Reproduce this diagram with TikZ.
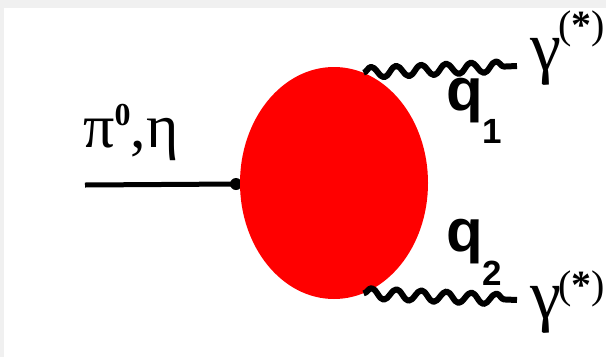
\documentclass[tikz,border=0pt]{standalone}
\usepackage{fontspec}
\setmainfont{Liberation Serif}
\setsansfont{Liberation Sans}
\usetikzlibrary{shapes.geometric,decorations.pathmorphing}
\begin{document}
\begin{tikzpicture}[x=1pt,y=-1pt,
  photon/.style={line width=6pt, line join=round, decorate, decoration={snake, segment length=25pt, amplitude=5.5pt, post length=3pt}},
  serlab/.style={anchor=base west, inner sep=0pt, font=\fontsize{62}{62}\selectfont},
  gamlab/.style={anchor=base west, inner sep=0pt, font=\fontsize{70}{70}\selectfont},
  qlab/.style={anchor=base west, inner sep=0pt, font=\sffamily\bfseries\fontsize{60}{60}\selectfont}]
\useasboundingbox (0,0) rectangle (606,357);
\fill[gray!12] (0,0) rectangle (606,8);
\fill[gray!12] (0,0) rectangle (4,357);
% vertex and incoming line
\coordinate (vtx) at (236,184);
\coordinate (in) at (85,185);
\fill (vtx) circle (6);
\draw[line width=5pt] (in) -- (vtx);
% blob
\node[ellipse, fill=red, draw=none, inner sep=0pt, minimum width=188pt, minimum height=232pt] (blob) at (334,183) {};
% photons
\coordinate (g1) at (517,66);
\coordinate (g2) at (517,300);
\draw[photon] (blob.75) -- (g1);
\draw[photon] (blob.-75) -- (g2);
% labels
\node[serlab] (pilab) at (83,147) {π\raisebox{22pt}{\fontsize{32}{32}\selectfont\bfseries 0},η};
\node[gamlab] (gam1) at (530,70) {γ\kern-3pt\raisebox{32pt}{\fontsize{40}{40}\selectfont(\textbf{*})}};
\node[gamlab] (gam2) at (530,318) {γ\kern-3pt\raisebox{20pt}{\fontsize{40}{40}\selectfont(\textbf{*})}};
\node[qlab] (q1) at (446,110) {q\raisebox{-33pt}{\fontsize{35}{35}\selectfont 1}};
\node[qlab] (q2) at (446,251) {q\raisebox{-34pt}{\fontsize{35}{35}\selectfont 2}};
\end{tikzpicture}
\end{document}
